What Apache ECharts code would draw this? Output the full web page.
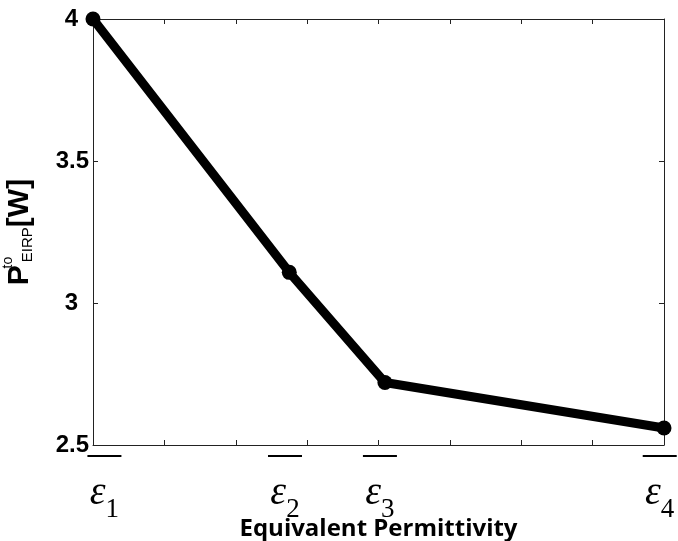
<!DOCTYPE html>
<html>
<head>
<meta charset="utf-8">
<script src="https://cdn.jsdelivr.net/npm/echarts@6/dist/echarts.min.js"></script>
<style>
  html, body { margin: 0; padding: 0; background: #fff; }
  #main { width: 678px; height: 541px; }
</style>
</head>
<body>
<div id="main"></div>
<script>
// data
const xPos = [0, 2.75, 4.09, 8];          // position of each permittivity on the (unlabelled) x scale
const power = [4.0, 3.108, 2.72, 2.56];   // P_EIRP^to [W]
const epsNames = ["1", "2", "3", "4"];
const epsLabelPos = [0.16, 2.69, 4.02, 7.94];
const yTicks = [2.5, 3, 3.5, 4];

(function () {
    var myChart = echarts.init(document.getElementById("main"));

    var lineColor = "#222";
    var inTick = { show: true, inside: true, length: 5, lineStyle: { color: lineColor, width: 1 } };

    // helper for the extra label-only x axes
    function labelAxis(margin, formatter, rich) {
        return {
            type: "value", min: 0, max: 8, position: "bottom",
            axisLine: { show: false },
            axisTick: { show: false },
            splitLine: { show: false },
            axisLabel: {
                show: true,
                customValues: epsLabelPos,
                margin: margin,
                formatter: formatter,
                rich: rich
            }
        };
    }

    var option = {
        animation: false,
        grid: { left: 93, right: 14, top: 19, bottom: 96, outerBoundsMode: "none", containLabel: false },
        xAxis: [
            {
                // bottom frame with inward ticks
                type: "value", min: 0, max: 8, interval: 1, position: "bottom",
                axisLine: { show: true, onZero: false, lineStyle: { color: lineColor, width: 1 } },
                axisTick: inTick,
                axisLabel: { show: false },
                splitLine: { show: false },
                name: "Equivalent Permittivity",
                nameLocation: "middle",
                nameGap: 72,
                nameTextStyle: { fontFamily: "Open Sans", fontWeight: "bold", fontSize: 24, color: "#000" }
            },
            {
                // top frame
                type: "value", min: 0, max: 8, interval: 1, position: "top",
                axisLine: { show: true, onZero: false, lineStyle: { color: lineColor, width: 1 } },
                axisTick: inTick,
                axisLabel: { show: false },
                splitLine: { show: false }
            },
            // overbars
            labelAxis(10, function () { return "{bar| }"; }, {
                bar: { width: 34, height: 2, lineHeight: 2, fontSize: 2, backgroundColor: "#000" }
            }),
            // epsilon symbols
            labelAxis(28, function (v) {
                var i = epsLabelPos.indexOf(v);
                return i < 0 ? "" : "{e|ε}{s|" + epsNames[i] + "}";
            }, {
                e: { fontFamily: "Liberation Serif", fontStyle: "italic", fontSize: 40, lineHeight: 32, color: "#000", verticalAlign: "top" },
                s: { fontFamily: "Liberation Serif", fontSize: 27, lineHeight: 50, color: "#000", verticalAlign: "bottom" }
            })
        ],
        yAxis: [
            {
                type: "value", min: yTicks[0], max: yTicks[yTicks.length - 1], interval: 0.5, position: "left",
                axisLine: { show: true, onZero: false, lineStyle: { color: lineColor, width: 1 } },
                axisTick: inTick,
                splitLine: { show: false },
                axisLabel: {
                    margin: 4,
                    formatter: function (v) {
                        return Number.isInteger(v) ? "{i|" + v + "}" : "{d|" + v + "}";
                    },
                    rich: {
                        i: { fontFamily: "Liberation Sans", fontWeight: "bold", fontSize: 24, color: "#000", padding: [0, 11, 0, 0] },
                        d: { fontFamily: "Liberation Sans", fontWeight: "bold", fontSize: 24, color: "#000" }
                    }
                },
                name: "{p|P}{sup|to}{sub|EIRP}{w|[W]}",
                nameLocation: "middle",
                nameGap: 58,
                nameRotate: 90,
                nameTextStyle: {
                    rich: {
                        p: { fontFamily: "Liberation Sans", fontWeight: "bold", fontSize: 30, color: "#000", verticalAlign: "bottom", lineHeight: 34, padding: [0, 2, 0, 0] },
                        sup: { fontFamily: "Liberation Sans", fontSize: 14, color: "#000", width: 1, verticalAlign: "top", lineHeight: 34 },
                        sub: { fontFamily: "Liberation Sans", fontSize: 15, color: "#000", verticalAlign: "bottom", lineHeight: 30 },
                        w: { fontFamily: "Liberation Sans", fontWeight: "bold", fontSize: 30, color: "#000", verticalAlign: "bottom", lineHeight: 34 }
                    }
                }
            },
            {
                type: "value", min: yTicks[0], max: yTicks[yTicks.length - 1], interval: 0.5, position: "right",
                axisLine: { show: true, onZero: false, lineStyle: { color: lineColor, width: 1 } },
                axisTick: inTick,
                axisLabel: { show: false },
                splitLine: { show: false }
            }
        ],
        series: [
            {
                type: "line",
                xAxisIndex: 0,
                yAxisIndex: 0,
                data: xPos.map(function (x, i) { return [x, power[i]]; }),
                symbol: "circle",
                symbolSize: 15,
                lineStyle: { color: "#000", width: 9 },
                itemStyle: { color: "#000" },
                clip: false
            }
        ]
    };

    myChart.setOption(option);
    window.addEventListener("resize", function () {
        myChart.resize();
    });
})();
</script>
</body>
</html>
